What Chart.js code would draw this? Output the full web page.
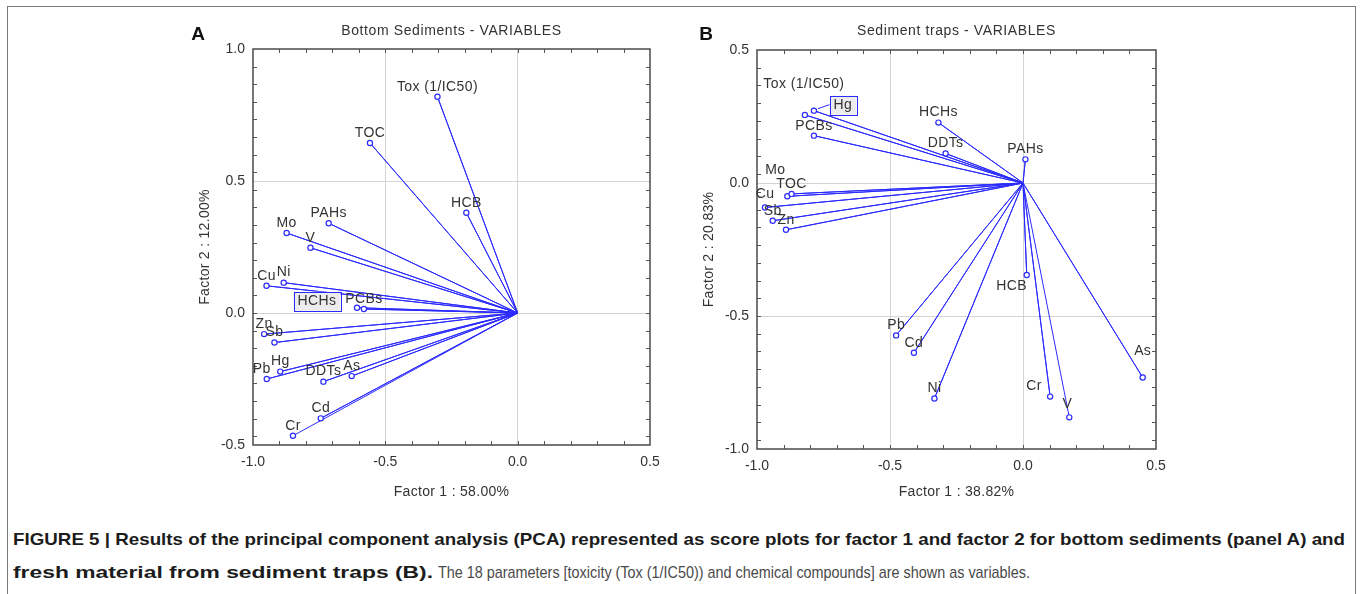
<!DOCTYPE html>
<html>
<head>
<meta charset="utf-8">
<script src="https://cdn.jsdelivr.net/npm/chart.js@4/dist/chart.umd.min.js"></script>
<style>
  html, body { margin: 0; padding: 0; background: #fff; }
  #page { position: relative; width: 1360px; height: 594px; overflow: hidden; font-family: "Liberation Sans", Arial, sans-serif; }
  #frame { position: absolute; left: 7px; top: 6px; width: 1347px; height: 620px; border: 1.5px solid #7a7a7a; border-bottom: none; }
  canvas { position: absolute; top: 0; }
  #chartA { left: 180px; }
  #chartB { left: 684px; }
  .cap { position: absolute; font-size: 17px; line-height: 20px; white-space: nowrap; transform-origin: 0 0; }
  .cap.bold { font-weight: bold; color: #1c1c1c; }
  .cap.plain { color: #4a4a4a; }
</style>
</head>
<body>
<div id="page">
  <div id="frame"></div>
  <canvas id="chartA" width="500" height="510"></canvas>
  <canvas id="chartB" width="500" height="510"></canvas>
  <span class="cap bold" id="cap1" style="left:13px; top:530px;" data-w="1332">FIGURE 5 | Results of the principal component analysis (PCA) represented as score plots for factor 1 and factor 2 for bottom sediments (panel A) and</span>
  <span class="cap bold" id="cap2" style="left:13px; top:563px;" data-w="420">fresh material from sediment traps (B).</span>
  <span class="cap plain" id="cap3" style="left:438px; top:563px;" data-w="592">The 18 parameters [toxicity (Tox (1/IC50)) and chemical compounds] are shown as variables.</span>
</div>
<script>
// --- Panel A: bottom sediments ---
const labelsA = ['Tox (1/IC50)', 'TOC', 'HCB', 'PAHs', 'Mo', 'V', 'Cu', 'Ni', 'HCHs', 'PCBs', 'Zn', 'Sb', 'Pb', 'Hg', 'DDTs', 'As', 'Cd', 'Cr'];
const factor1A = [-0.303, -0.558, -0.194, -0.714, -0.873, -0.783, -0.949, -0.884, -0.607, -0.581, -0.958, -0.919, -0.948, -0.897, -0.734, -0.627, -0.744, -0.849];
const factor2A = [0.819, 0.644, 0.380, 0.340, 0.303, 0.247, 0.103, 0.115, 0.020, 0.015, -0.080, -0.112, -0.250, -0.222, -0.260, -0.239, -0.399, -0.465];

// --- Panel B: sediment traps ---
const labelsB = ['Tox (1/IC50)', 'Hg', 'PCBs', 'HCHs', 'DDTs', 'PAHs', 'Mo', 'TOC', 'Cu', 'Sb', 'Zn', 'Pb', 'Cd', 'Ni', 'HCB', 'As', 'Cr', 'V'];
const factor1B = [-0.820, -0.786, -0.786, -0.318, -0.291, 0.009, -0.886, -0.870, -0.970, -0.941, -0.891, -0.477, -0.410, -0.333, 0.014, 0.450, 0.102, 0.174];
const factor2B = [0.256, 0.272, 0.178, 0.227, 0.111, 0.089, -0.050, -0.041, -0.092, -0.142, -0.176, -0.573, -0.638, -0.810, -0.346, -0.731, -0.803, -0.881];

const xTicks = [-1.0, -0.5, 0.0, 0.5];
const yTicksA = [-0.5, 0.0, 0.5, 1.0];
const yTicksB = [-1.0, -0.5, 0.0, 0.5];

// label placement tweaks (pixel offsets of label centre from the marker)
const labelShiftA = { 'HCHs': [-40, -7], 'Pb': [-5, -10] };
const labelShiftB = {
    'Tox (1/IC50)': [-1, -31], 'Hg': [29, -6], 'Mo': [-12, -26], 'Cu': [0, -13],
    'HCB': [-15, 11], 'As': [0, -26], 'Cr': [-16, -10], 'V': [-2, -13]
};

const lineBlue = '#2b2bff';
const FONT = '"Liberation Sans", Arial, sans-serif';

// origin -> point -> origin -> point ... so each variable gets its own vector
function vectorPoints(xs, ys) {
    const pts = [];
    xs.forEach((x, i) => {
        pts.push({ x: 0, y: 0 });
        pts.push({ x: x, y: ys[i] });
    });
    return pts;
}

const panelText = {
    id: 'panelText',
    afterDraw(chart, args, opts) {
        const ctx = chart.ctx;
        const area = chart.chartArea;
        const xs = chart.scales.x, ys = chart.scales.y;
        ctx.save();

        // frame
        ctx.strokeStyle = '#4a4a4a';
        ctx.lineWidth = 1.5;
        ctx.strokeRect(area.left, area.top, area.right - area.left, area.bottom - area.top);

        // small inward ticks
        ctx.lineWidth = 1;
        ctx.strokeStyle = '#555';
        ctx.beginPath();
        for (let k = 1; k < 15; k++) {
            const px = Math.round(xs.getPixelForValue(xs.min + k * 0.1)) + 0.5;
            ctx.moveTo(px, area.top); ctx.lineTo(px, area.top + 4);
            ctx.moveTo(px, area.bottom); ctx.lineTo(px, area.bottom - 4);
        }
        for (let k = 1; k < 23; k++) {
            const py = Math.round(ys.getPixelForValue(ys.max - k / 15)) + 0.5;
            ctx.moveTo(area.left, py); ctx.lineTo(area.left + 4, py);
            ctx.moveTo(area.right, py); ctx.lineTo(area.right - 4, py);
        }
        ctx.stroke();

        // panel letter
        ctx.fillStyle = '#111';
        ctx.font = 'bold 19px ' + FONT;
        ctx.textAlign = 'center';
        ctx.textBaseline = 'alphabetic';
        ctx.fillText(opts.letter, opts.letterX, 40);

        // titles
        const cx = (area.left + area.right) / 2;
        const cy = (area.top + area.bottom) / 2;
        ctx.fillStyle = '#333';
        ctx.font = '14px ' + FONT;
        ctx.letterSpacing = '0.6px';
        ctx.fillText(opts.title, cx, 35);
        ctx.letterSpacing = '0.3px';
        ctx.textBaseline = 'middle';
        ctx.fillText(opts.xTitle, cx, 492);
        ctx.save();
        ctx.translate(25, cy);
        ctx.rotate(-Math.PI / 2);
        ctx.fillText(opts.yTitle, 0, 0);
        ctx.restore();

        // variable labels
        const meta = chart.getDatasetMeta(0);
        ctx.letterSpacing = '0.4px';
        opts.labels.forEach((name, i) => {
            const pt = meta.data[2 * i + 1];
            const shift = opts.shift[name] || [0, -10];
            const tx = pt.x + shift[0], ty = pt.y + shift[1];
            if (opts.boxed.includes(name)) {
                const w = ctx.measureText(name).width + 8;
                ctx.fillStyle = '#ececec';
                ctx.fillRect(tx - w / 2, ty - 9, w, 19);
                ctx.strokeStyle = lineBlue;
                ctx.lineWidth = 1;
                ctx.strokeRect(Math.round(tx - w / 2) + 0.5, Math.round(ty - 9) + 0.5, Math.round(w), 19);
                if (shift[0] > 20) {
                    ctx.beginPath();
                    ctx.moveTo(pt.x + 4, pt.y - 2);
                    ctx.lineTo(tx - w / 2, ty);
                    ctx.stroke();
                }
            }
            ctx.fillStyle = '#333';
            ctx.fillText(name, tx, ty);
        });
        ctx.restore();
    }
};

function makePanel(canvasId, cfg) {
    return new Chart(document.getElementById(canvasId), {
        type: 'scatter',
        data: {
            datasets: [{
                data: vectorPoints(cfg.f1, cfg.f2),
                showLine: true,
                borderColor: lineBlue,
                borderWidth: 1,
                tension: 0,
                pointRadius: c => (c.dataIndex % 2 ? 2.6 : 0),
                pointHoverRadius: c => (c.dataIndex % 2 ? 2.6 : 0),
                pointBackgroundColor: '#fff',
                pointBorderColor: lineBlue,
                pointBorderWidth: 1.2
            }]
        },
        options: {
            responsive: false,
            animation: false,
            events: [],
            layout: { padding: cfg.padding },
            plugins: {
                legend: { display: false },
                tooltip: { enabled: false },
                panelText: {
                    letter: cfg.letter, letterX: cfg.letterX, title: cfg.title,
                    xTitle: cfg.xTitle, yTitle: cfg.yTitle,
                    labels: cfg.labels, shift: cfg.shift, boxed: cfg.boxed
                }
            },
            scales: {
                x: {
                    type: 'linear',
                    min: cfg.xT[0], max: cfg.xT[cfg.xT.length - 1],
                    afterBuildTicks: s => { s.ticks = cfg.xT.map(v => ({ value: v })); },
                    afterFit: s => { s.height = cfg.xAxisH; },
                    border: { display: false },
                    grid: {
                        drawTicks: false,
                        color: c => (c.index === 0 || c.index === cfg.xT.length - 1) ? 'rgba(0,0,0,0)' : '#d4d4d4'
                    },
                    ticks: { padding: 9, color: '#333', font: { family: FONT, size: 14 }, callback: v => v.toFixed(1) }
                },
                y: {
                    type: 'linear',
                    min: cfg.yT[0], max: cfg.yT[cfg.yT.length - 1],
                    afterBuildTicks: s => { s.ticks = cfg.yT.map(v => ({ value: v })); },
                    afterFit: s => { s.width = 73; },
                    border: { display: false },
                    grid: {
                        drawTicks: false,
                        color: c => (c.index === 0 || c.index === cfg.yT.length - 1) ? 'rgba(0,0,0,0)' : '#d4d4d4'
                    },
                    ticks: { padding: 8, color: '#333', font: { family: FONT, size: 14 }, callback: v => v.toFixed(1) }
                }
            }
        },
        plugins: [panelText]
    });
}

makePanel('chartA', {
    f1: factor1A, f2: factor2A, labels: labelsA, shift: labelShiftA, boxed: ['HCHs'],
    xT: xTicks, yT: yTicksA,
    letter: 'A', letterX: 18, title: 'Bottom Sediments - VARIABLES',
    xTitle: 'Factor 1 : 58.00%', yTitle: 'Factor 2 : 12.00%',
    padding: { top: 49, right: 30, bottom: 0, left: 0 }, xAxisH: 65
});

makePanel('chartB', {
    f1: factor1B, f2: factor2B, labels: labelsB, shift: labelShiftB, boxed: ['Hg'],
    xT: xTicks, yT: yTicksB,
    letter: 'B', letterX: 22, title: 'Sediment traps - VARIABLES',
    xTitle: 'Factor 1 : 38.82%', yTitle: 'Factor 2 : 20.83%',
    padding: { top: 50, right: 28, bottom: 0, left: 0 }, xAxisH: 61
});

// the caption font in the figure is a condensed face: squeeze each run to its width
document.querySelectorAll('.cap').forEach(el => {
    const w = el.getBoundingClientRect().width;
    el.style.transform = 'scaleX(' + (Number(el.dataset.w) / w).toFixed(4) + ')';
});
</script>
</body>
</html>
